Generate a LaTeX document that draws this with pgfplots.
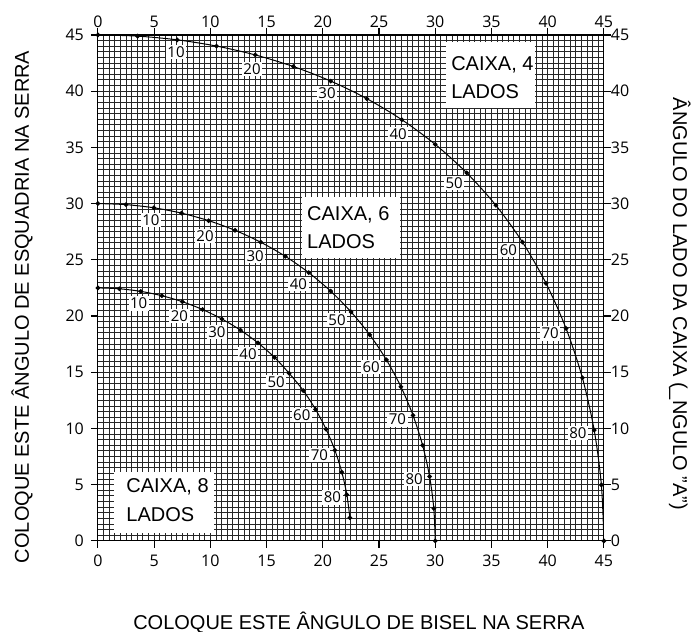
\documentclass[border=0pt]{standalone}
\usepackage{fontspec}
\setmainfont{Liberation Sans}
\newfontfamily\ticksf{Open Sans}
\usepackage{pgfplots}
\pgfplotsset{compat=1.18}

\begin{document}
\begin{tikzpicture}
\pgfplotsset{
  chart/.style={
    scale only axis,width=253pt,height=253pt,
    at={(0,0)},anchor=south west,
    xmin=0,xmax=45,ymin=0,ymax=45,
    xtick={0,5,...,45},ytick={0,5,...,45},
    /pgf/number format/assume math mode=true,
    tick label style={font=\ticksf\fontsize{8}{9}\selectfont},
  },
}
\tikzset{
  lbl/.style={fill=white,inner sep=0.8pt,font=\ticksf\fontsize{7.5}{8}\selectfont},
  boxtxt/.style={anchor=base west,inner sep=0pt,font=\fontsize{10}{12}\selectfont},
}
\begin{axis}[chart,
  minor tick num=9,
  grid=both,
  major grid style={black!85,line width=0.45pt},
  minor grid style={black!85,line width=0.45pt},
  tick align=outside,xtick pos=both,ytick pos=both,
  major tick length=3.5pt,minor tick length=0pt,
  xticklabel pos=lower,yticklabel pos=left,
  axis line style={black,line width=0.6pt},
  every tick/.style={black,line width=0.6pt},
]
% caixa 4 lados
\addplot[black,line width=0.5pt,smooth,mark=*,mark size=0.9pt] coordinates {
(0,45)(3.533,44.891)(7.053,44.562)(10.545,44.007)(13.995,43.219)(17.387,42.187)
(20.705,40.893)(23.928,39.324)(27.034,37.454)(30.000,35.264)(32.797,32.732)
(35.395,29.844)(37.761,26.565)(39.853,22.910)(41.640,18.882)(43.084,14.511)
(44.136,9.852)(44.777,4.981)(45,0)};
% caixa 6 lados
\addplot[black,line width=0.5pt,smooth,mark=*,mark size=0.9pt] coordinates {
(0,30)(2.498,29.906)(4.981,29.623)(7.435,29.149)(9.846,28.481)(12.199,27.621)
(14.478,26.565)(16.666,25.311)(18.747,23.859)(20.705,22.208)(22.521,20.357)
(24.178,18.324)(25.659,16.102)(26.948,13.712)(28.024,11.170)(28.879,8.498)
(29.498,5.725)(29.874,2.881)(30,0)};
% caixa 8 lados
\addplot[black,line width=0.5pt,smooth,mark=*,mark size=0.9pt] coordinates {
(0,22.5)(1.911,22.423)(3.810,22.192)(5.684,21.806)(7.521,21.268)(9.307,20.577)
(11.031,19.732)(12.680,18.744)(14.240,17.605)(15.700,16.325)(17.005,14.908)
(18.269,13.365)(19.355,11.700)(20.294,9.929)(21.076,8.063)(21.693,6.119)
(22.139,4.114)(22.409,2.068)};

% angle labels
\node[lbl] at (axis cs:6.95,43.45) {10};
\node[lbl] at (axis cs:13.71,41.97) {20};
\node[lbl] at (axis cs:20.38,39.83) {30};
\node[lbl] at (axis cs:26.70,36.18) {40};
\node[lbl] at (axis cs:31.68,31.80) {50};
\node[lbl] at (axis cs:36.51,25.86) {60};
\node[lbl] at (axis cs:40.22,18.45) {70};
\node[lbl] at (axis cs:42.69,9.61) {80};

\node[lbl] at (axis cs:4.72,28.53) {10};
\node[lbl] at (axis cs:9.53,27.11) {20};
\node[lbl] at (axis cs:13.98,25.33) {30};
\node[lbl] at (axis cs:17.83,22.84) {40};
\node[lbl] at (axis cs:21.27,19.63) {50};
\node[lbl] at (axis cs:24.30,15.45) {60};
\node[lbl] at (axis cs:26.64,10.80) {70};
\node[lbl] at (axis cs:28.12,5.49) {80};

\node[lbl] at (axis cs:3.63,21.12) {10};
\node[lbl] at (axis cs:7.25,20.03) {20};
\node[lbl] at (axis cs:10.59,18.58) {30};
\node[lbl] at (axis cs:13.35,16.63) {40};
\node[lbl] at (axis cs:15.85,14.11) {50};
\node[lbl] at (axis cs:18.13,11.18) {60};
\node[lbl] at (axis cs:19.70,7.62) {70};
\node[lbl] at (axis cs:20.86,3.86) {80};

% box names
\fill[white] (axis cs:30.94,38.47) rectangle (axis cs:38.89,44.4);
\node[boxtxt] at (axis cs:31.39,41.83) {CAIXA, 4};
\node[boxtxt] at (axis cs:31.39,39.37) {LADOS};
\fill[white] (axis cs:18.13,25.12) rectangle (axis cs:26.88,30.6);
\node[boxtxt] at (axis cs:18.58,28.49) {CAIXA, 6};
\node[boxtxt] at (axis cs:18.58,26.02) {LADOS};
\fill[white] (axis cs:1.43,0.71) rectangle (axis cs:10.33,6.14);
\node[boxtxt] at (axis cs:2.5,4.32) {CAIXA, 8};
\node[boxtxt] at (axis cs:2.5,1.74) {LADOS};
\end{axis}
% tick labels on top and right
\begin{axis}[chart,
  axis line style={draw=none},
  major tick length=0pt,
  xticklabel pos=upper,yticklabel pos=right,
]
\end{axis}

\node[font=\fontsize{10}{12}\selectfont] at (130.5pt,-40.65pt) {COLOQUE ESTE ÂNGULO DE BISEL NA SERRA};
\node[rotate=90,anchor=west,font=\fontsize{10}{12}\selectfont] at (-37.95pt,-14.6pt)
  {COLOQUE ESTE ÂNGULO DE ESQUADRIA NA SERRA};
\node[rotate=-90,anchor=east,font=\fontsize{10}{12}\selectfont] at (291pt,11.85pt)
  {ÂNGULO DO LADO DA CAIXA (\_NGULO ''A'')};

\pgfresetboundingbox
\useasboundingbox (-48.95pt,-45.15pt) rectangle (296.55pt,270.45pt);
\end{tikzpicture}
\end{document}
